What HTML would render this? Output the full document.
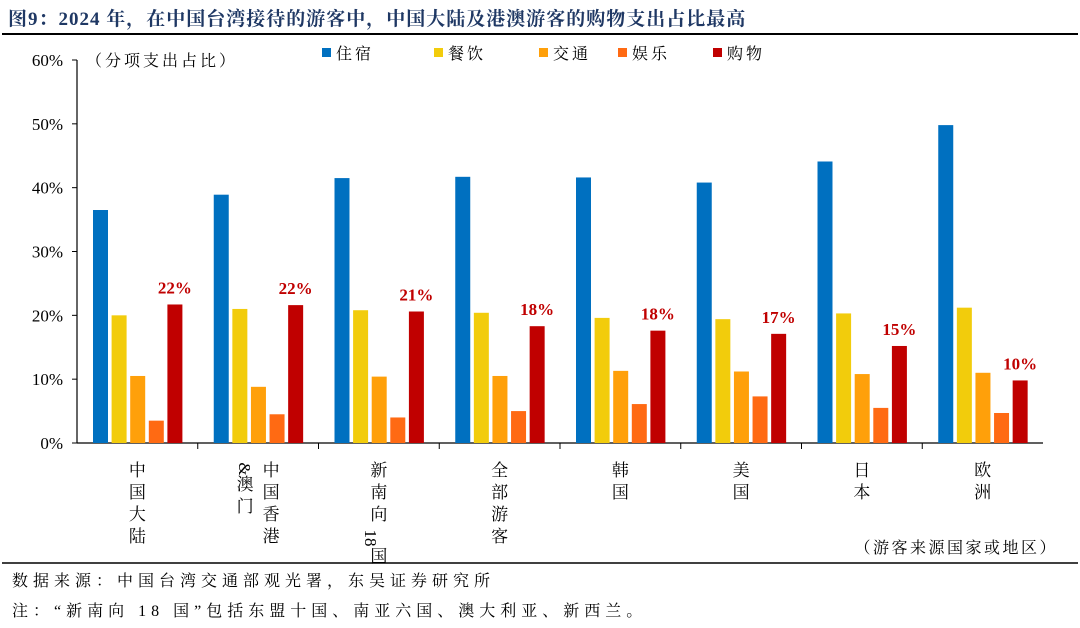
<!DOCTYPE html>
<html><head><meta charset="utf-8"><style>
body{margin:0;background:#fff;width:1080px;height:628px;overflow:hidden;font-family:"Liberation Serif","Noto Serif CJK SC",serif;}
.t{position:absolute;white-space:nowrap;}
</style></head><body>
<div class="t" style="left:8px;top:4px;font-size:19px;font-weight:bold;color:#1f3864;letter-spacing:1px;">图9：2024 年，在中国台湾接待的游客中，中国大陆及港澳游客的购物支出占比最高</div>
<div style="position:absolute;left:2px;top:33px;width:1076px;height:2px;background:#000;"></div>
<svg id="c" width="1080" height="628" style="position:absolute;left:0;top:0"></svg>
<div class="t" style="left:12px;top:568px;font-size:16px;letter-spacing:5px;">数据来源：中国台湾交通部观光署，东吴证券研究所</div>
<div class="t" style="left:12px;top:598px;font-size:16px;letter-spacing:5px;">注：“新南向 18 国”包括东盟十国、南亚六国、澳大利亚、新西兰。</div>
<script>
const categories=[["中国大陆"],["中国香港","&澳门"],["新南向18国"],["全部游客"],["韩国"],["美国"],["日本"],["欧洲"]];
const seriesNames=["住宿","餐饮","交通","娱乐","购物"];
const lodging=[36.5,38.9,41.5,41.7,41.6,40.8,44.1,49.8];
const dining=[20,21,20.8,20.4,19.6,19.4,20.3,21.2];
const transport=[10.5,8.8,10.4,10.5,11.3,11.2,10.8,11];
const entertainment=[3.5,4.5,4,5,6.1,7.3,5.5,4.7];
const shopping=[21.7,21.6,20.6,18.3,17.6,17.1,15.2,9.8];
const shopLabels=["22%","22%","21%","18%","18%","17%","15%","10%"];
const yTicks=[0,10,20,30,40,50,60];
const colors=["#0070c0","#f2cc0c","#ffa00a","#ff6a13","#c00000"];
const series=[lodging,dining,transport,entertainment,shopping];
const svg=document.getElementById('c');const NS="http://www.w3.org/2000/svg";
const x0=77,x1=1043,y0=443,yTop=60,gw=(x1-x0)/categories.length;
const ys=v=>y0-(v/60)*(y0-yTop);
function el(t,a,txt){const e=document.createElementNS(NS,t);for(const k in a)e.setAttribute(k,a[k]);if(txt!==undefined)e.textContent=txt;svg.appendChild(e);return e;}
let e=el('line',{x1:x0,y1:yTop,x2:x0,y2:y0,stroke:'#000','stroke-width':1.2});

e=el('line',{x1:x0,y1:y0,x2:x1,y2:y0,stroke:'#000','stroke-width':1.2});

yTicks.forEach(v=>{const y=ys(v);
 el('line',{x1:x0-5,y1:y,x2:x0,y2:y,stroke:'#000'});
 e=el('text',{x:63,y:y+6,'text-anchor':'end','font-size':17,'font-family':'Liberation Serif'},v+'%');
 });
e=el('text',{x:86,y:66,'font-size':16,'letter-spacing':3,'font-family':'Noto Serif CJK SC'},'（分项支出占比）');

const legX=[322,434,539,618,713];
seriesNames.forEach((n,i)=>{
 e=el('rect',{x:legX[i],y:48,width:9,height:9,fill:colors[i]});
 
 e=el('text',{x:legX[i]+14,y:59,'font-size':16,'letter-spacing':3,'font-family':'Noto Serif CJK SC'},n);
 });
categories.forEach((c,g)=>{
 const gx=x0+g*gw;
 if(g>0){el('line',{x1:gx,y1:y0,x2:gx,y2:y0+6,stroke:'#000'});}
 series.forEach((s,i)=>{const y=ys(s[g]);
  e=el('rect',{x:gx+16+i*18.6,y:y,width:15,height:y0-y,fill:colors[i]});
  });
 e=el('text',{x:gx+16+4*18.6+7.5,y:ys(shopping[g])-11,'text-anchor':'middle','font-size':17,'font-weight':'bold',fill:'#c00000','font-family':'Liberation Serif'},shopLabels[g]);
 
 const cx=gx+gw/2;
 c.forEach((col,k)=>{
  const colX=c.length>1?(k==0?cx+13:cx-13):cx;
  const toks=col.match(/18|./g);
  let ty=476;
  toks.forEach(t=>{
   if(t=='18'||t=='&'){
    const h=t=='18'?20:14;
    const cy=ty-6+(h-16)/2;
    const sh=t=='18'?-8:0;
    e=el('text',{x:colX,y:cy+6,'font-size':17,'font-family':'Liberation Serif','text-anchor':'middle',transform:`translate(${sh} 0) rotate(90 ${colX} ${cy})`},t);
    ty+=h;
   }else{
    e=el('text',{x:colX,y:ty,'font-size':17,'font-family':'Noto Serif CJK SC','text-anchor':'middle'},t);
    ty+=22;}
   
  });
 });
});
e=el('text',{x:1058,y:553,'text-anchor':'end','font-size':16,'letter-spacing':2.5,'font-family':'Noto Serif CJK SC'},'（游客来源国家或地区）');

e=el('line',{x1:2,y1:563,x2:1078,y2:563,stroke:'#000','stroke-width':1.5});

</script>
</body></html>
